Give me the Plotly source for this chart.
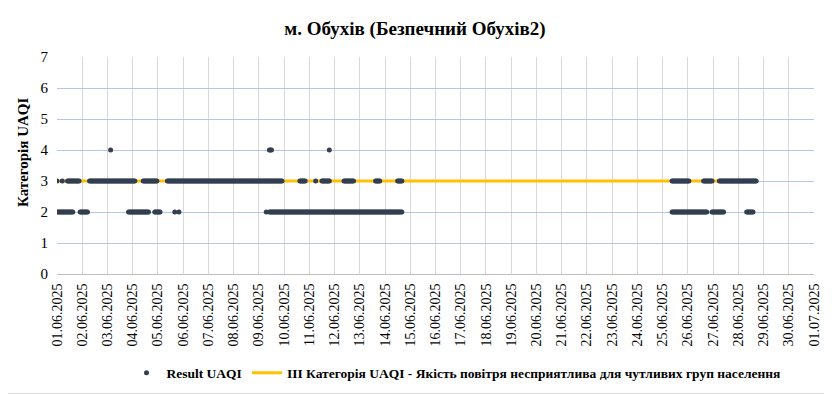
import pandas as pd
import plotly.graph_objects as go

title_text = "м. Обухів (Безпечний Обухів2)"
y_title = "Категорія UAQI"
series_points = "Result UAQI"
series_line = "ІІІ Категорія UAQI - Якість повітря несприятлива для чутливих груп населення"

# Runs of hourly readings (start, end) per UAQI category
level2_runs = [
    ("2025-06-01 00:00", "2025-06-01 15:00"),
    ("2025-06-01 22:00", "2025-06-02 05:00"),
    ("2025-06-03 20:00", "2025-06-04 15:00"),
    ("2025-06-04 21:00", "2025-06-05 02:00"),
    ("2025-06-05 16:00", "2025-06-05 16:00"),
    ("2025-06-05 20:00", "2025-06-05 20:00"),
    ("2025-06-09 07:00", "2025-06-09 07:00"),
    ("2025-06-09 10:00", "2025-06-14 16:00"),
    ("2025-06-25 09:00", "2025-06-26 18:00"),
    ("2025-06-26 23:00", "2025-06-27 10:00"),
    ("2025-06-28 08:00", "2025-06-28 14:00"),
]
level3_runs = [
    ("2025-06-01 00:00", "2025-06-01 00:00"),
    ("2025-06-01 05:00", "2025-06-01 05:00"),
    ("2025-06-01 10:00", "2025-06-01 21:00"),
    ("2025-06-02 07:00", "2025-06-04 02:00"),
    ("2025-06-04 10:00", "2025-06-04 23:00"),
    ("2025-06-05 09:00", "2025-06-09 22:00"),
    ("2025-06-10 15:00", "2025-06-10 20:00"),
    ("2025-06-11 06:00", "2025-06-11 06:00"),
    ("2025-06-11 12:00", "2025-06-11 19:00"),
    ("2025-06-12 09:00", "2025-06-12 18:00"),
    ("2025-06-13 15:00", "2025-06-13 19:00"),
    ("2025-06-14 12:00", "2025-06-14 16:00"),
    ("2025-06-25 09:00", "2025-06-26 01:00"),
    ("2025-06-26 15:00", "2025-06-26 23:00"),
    ("2025-06-27 06:00", "2025-06-28 17:00"),
]
level4_runs = [
    ("2025-06-03 03:00", "2025-06-03 03:00"),
    ("2025-06-09 10:00", "2025-06-09 12:00"),
    ("2025-06-11 19:00", "2025-06-11 19:00"),
]

period_start = "2025-06-01 00:00"
period_end = "2025-06-28 17:00"
threshold_value = 3

axis_start = "2025-06-01"
axis_end = "2025-07-01"

xs, ys = [], []
for level, runs in ((2, level2_runs), (3, level3_runs), (4, level4_runs)):
    for a, b in runs:
        for t in pd.date_range(a, b, freq="h"):
            xs.append(t)
            ys.append(level)

SERIF = "Liberation Serif"

fig = go.Figure()
fig.add_trace(go.Scatter(
    x=[period_start, period_end], y=[threshold_value, threshold_value],
    mode="lines", line=dict(color="#ffc000", width=3),
    name=series_line, legendrank=2,
))
fig.add_trace(go.Scatter(
    x=xs, y=ys, mode="markers",
    marker=dict(color="#333f50", size=5),
    name=series_points, legendrank=1,
))

# page body adds an 8px offset; figure sized so the plot lands where the reference has it
OFF = 8
W, H = 832 - OFF, 394 - OFF
ml, mr, mt, mb = 57 - OFF, 18, 57 - OFF, 120
pw, ph = W - ml - mr, H - mt - mb

fig.update_layout(
    width=W, height=H,
    margin=dict(l=ml, r=mr, t=mt, b=mb, autoexpand=False),
    paper_bgcolor="white", plot_bgcolor="white",
    title=dict(text="<b>" + title_text + "</b>", x=(415 - OFF) / W, xanchor="center",
               y=1 - (28 - OFF) / H, yanchor="middle",
               font=dict(family=SERIF, size=19, color="#000000")),
    showlegend=True,
    legend=dict(orientation="h", x=(456 - OFF - ml) / pw, xanchor="center",
                y=-(373 - 274) / ph, yanchor="middle",
                font=dict(family=SERIF, size=13.5, color="#000000", weight="bold"),
                itemwidth=30, bgcolor="rgba(0,0,0,0)"),
    xaxis=dict(
        type="date", range=[axis_start, axis_end], automargin=False,
        tickformat="%d.%m.%Y", dtick=86400000, tick0=axis_start,
        tickangle=-90, showgrid=True, gridcolor="#d9d9d9", gridwidth=1,
        showline=True, linecolor="#bfbfbf", linewidth=1,
        zeroline=False, ticks="", ticklabelstandoff=3,
        tickfont=dict(family=SERIF, size=14, color="#000000"),
    ),
    yaxis=dict(
        range=[0, 7], dtick=1, tick0=0, automargin=False,
        showgrid=True, gridcolor="#b4c7e7", gridwidth=1,
        zeroline=False, showline=False, ticks="", ticklabelstandoff=8,
        tickfont=dict(family=SERIF, size=15, color="#000000"),
    ),
    annotations=[dict(text="<b>" + y_title + "</b>", textangle=-90,
                      xref="paper", yref="paper",
                      x=(23 - OFF - ml) / pw, y=1 - (153 - 57) / ph,
                      xanchor="center", yanchor="middle", showarrow=False,
                      font=dict(family=SERIF, size=15, color="#000000"))],
    shapes=[
        dict(type="line", xref="paper", yref="paper",
             x0=1 + (mr - 1) / pw, x1=1 + (mr - 1) / pw,
             y0=(-mb + 0.5) / ph, y1=1 + mt / ph,
             line=dict(color="#d9d9d9", width=1), layer="below"),
        dict(type="line", xref="paper", yref="paper",
             x0=-ml / pw, x1=1 + (mr - 0.5) / pw,
             y0=(-mb + 0.5) / ph, y1=(-mb + 0.5) / ph,
             line=dict(color="#d9d9d9", width=1), layer="below"),
    ],
)

fig.write_html("out.html")
